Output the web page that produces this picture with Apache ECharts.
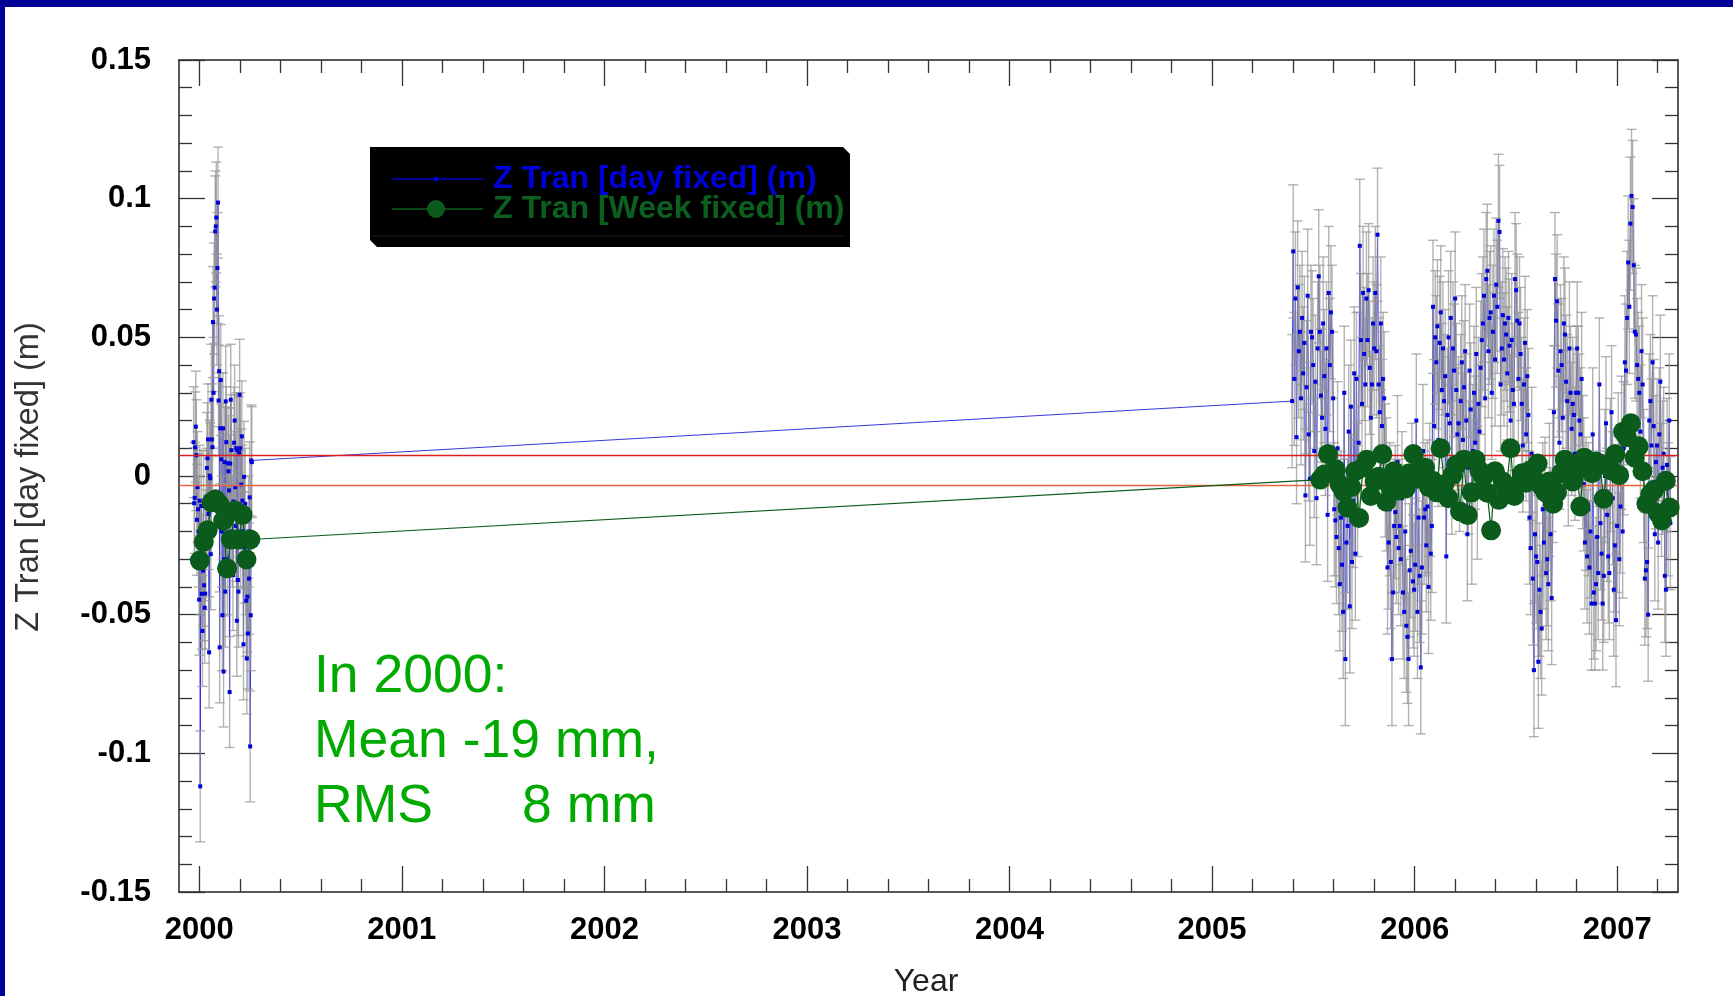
<!DOCTYPE html>
<html><head><meta charset="utf-8">
<script src="https://cdn.jsdelivr.net/npm/echarts@6/dist/echarts.min.js"></script>
<style>html,body{margin:0;padding:0;background:#fff;}#c{width:1733px;height:996px;}</style>
</head><body><div id="c"></div>
<script>
// ---------------- DATA ----------------
const seriesNames = ['Z Tran [day fixed] (m)', 'Z Tran [Week fixed] (m)'];
const yearTicks = [2000, 2001, 2002, 2003, 2004, 2005, 2006, 2007];
const axisTitleX = 'Year';
const axisTitleY = 'Z Tran [day fixed] (m)';
const annotationLines = ['In 2000:', 'Mean -19 mm,', 'RMS      8 mm'];

// daily solution, early 2000 (one value per day)
const dayLeftStart = 1999.972;
const dayLeftStepDays = 1;
const dayLeftValues = [
  0.0122, -0.0098, -0.0079, 0.0103, 0.0178, 0.0075, -0.0158, -0.004, -0.012, -0.02,
  -0.0446, -0.0089, -0.1119, -0.03, -0.0108, -0.0425, -0.0559, -0.0341, -0.0108, -0.0394,
  -0.0475, -0.0424, -0.025, -0.01, 0.0029, 0.0064, 0.0132, -0.0137, -0.0636, 0.0001,
  -0.0008, -0.0282, 0.0275, 0.0132, 0.0104, 0.0555, 0.03, 0.064, 0.0679, 0.0882,
  0.09, 0.0932, 0.06, 0.075, 0.0986, 0.0272, 0.0378, -0.0618, 0.0172, 0.0346,
  0.006, -0.02, -0.0502, 0.0172, -0.0705, -0.03, 0.005, -0.0417, 0.0269, 0.0122,
  -0.015, -0.03, 0.0046, 0.0017, -0.0052, -0.0779, 0.0045, 0.0275, 0.0093, -0.012,
  -0.02, -0.0357, -0.0092, 0.012, 0.02, -0.004, -0.018, 0.01, -0.0522, 0.0093,
  -0.0375, -0.0417, 0.0085, 0.0293, 0.01, -0.02, -0.0031, 0.0143, -0.0089, -0.02,
  -0.0607, -0.0003, -0.0258, -0.01, -0.03, -0.045, -0.0658, -0.0435, -0.0568, -0.02,
  -0.037, -0.0077, -0.0975, -0.0502, 0.0056, 0.005
];

// daily solution, mid 2005 - 2007 (read every second day)
const dayRightStart = 2005.395;
const dayRightStepDays = 2;
const dayRightValues = [
  0.027, 0.081, 0.035, 0.064, 0.014, 0.068, 0.045, 0.052, 0.028, 0.057, 0.037, 0.048, -0.007, 0.032, 0.065, 0.015, -0.001, 0.052, 0.05, 0.04,
  0.009, 0.034, -0.008, 0.046, 0.072, 0.052, 0.029, 0.021, 0.055, 0.036, 0.017, 0.046, -0.014, 0.066, 0.04, 0.059, 0.052, 0.028,
  -0.012, -0.016, -0.022, 0.01, -0.026, -0.039, -0.015, -0.032, -0.049, 0.03, -0.066, -0.024, -0.018, 0.016, -0.047, 0.025, -0.031, -0.009, 0.037, -0.028,
  0.035, -0.005, 0.012,
  0.083, 0.049, 0.026, 0.066, 0.044, 0.033, 0.064, 0.049, 0.067, 0.039, 0.021, 0.033, 0.055, 0.046, 0.066, 0.045, 0.087, 0.033, 0.023, 0.055,
  0.018, 0.035,
  0.028, 0.002, -0.003, -0.033, -0.024, -0.012, -0.031, -0.066, -0.042, -0.018, -0.013, -0.022, 0.005, -0.026, -0.018, -0.03, -0.008, -0.042, -0.049, -0.02,
  -0.054, -0.058, -0.066, -0.034, -0.027, -0.005, -0.038, -0.041, -0.032, 0.02, -0.049, -0.015, -0.036, -0.069, -0.033, 0.009, -0.015, -0.012, -0.025, -0.011,
  -0.04, -0.005, -0.028, -0.018,
  0.061, 0.018, 0.05, 0.041, 0.054, 0.013, 0.048, 0.059, 0.031, 0.046, 0.027, 0.036, -0.029, 0.022, 0.05, 0.019, 0.057, 0.003, 0.046, 0.038,
  0.064, 0.031, 0.015, 0.019, 0.004, 0.027, 0.041, 0.013, 0.032, 0.045, 0.02, -0.021, 0.003, 0.038, 0.024, -0.015, 0.009, 0.03, 0.012, 0.044,
  -0.006, 0.026, 0.016,
  0.039, 0.049, 0.055, 0.065, 0.028, 0.071, 0.074, 0.045, 0.057, 0.059, 0.03, 0.052, 0.065, 0.042, 0.069, 0.061, 0.092, 0.088, 0.033, 0.046,
  0.058, 0.042, 0.055, 0.051, 0.037, 0.057, 0.047, 0.02, 0.049, 0.031, 0.026, 0.071, 0.067, 0.056, 0.035, 0.055, 0.044, 0.026, 0.011, 0.033,
  0.048, 0.015, 0.036, 0.022,
  -0.015, -0.026, 0.008, -0.037, -0.07, -0.021, -0.029, -0.031, -0.067, -0.041, -0.049, -0.055, -0.012, -0.024, -0.01, -0.035, -0.03, -0.039, -0.005, -0.021,
  -0.044, 0.0,
  0.023, 0.071, 0.056, 0.063, 0.038, 0.012, 0.045, 0.04, 0.021, 0.055, 0.051, 0.034, 0.027, 0.006, 0.046, 0.03, 0.017, 0.026, 0.022, 0.008,
  0.03, 0.046, 0.03, 0.02, 0.015, 0.035, 0.005,
  -0.003, -0.024, -0.01, -0.029, -0.012, -0.033, -0.02, -0.046, 0.015, -0.042, -0.046, -0.039, -0.022, -0.035, 0.033, -0.017, -0.028, -0.046, -0.036, 0.0,
  0.019, -0.014, -0.029, -0.035, 0.004, 0.023, -0.008, -0.041, -0.025, -0.052, -0.018, 0.006, -0.03, -0.011, 0.012, -0.02, 0.01,
  0.041, 0.038, 0.057, 0.077, 0.061, 0.091, 0.101, 0.097, 0.076, 0.052, 0.051, 0.04, 0.035, 0.03, 0.016, 0.045,
  0.033, 0.0, -0.037, -0.034, -0.031, -0.05, 0.02, 0.027, 0.011, 0.041, 0.018, -0.021, 0.005, 0.011, -0.024, 0.015, 0.034, -0.005, 0.003, 0.008,
  -0.036, -0.041, 0.004, -0.012, 0.02, -0.017
];

// half-length of the daily error bars (m)
const dayErrLeft = 0.02;
const dayErrRight = 0.024;

// weekly solution
const weekStepDays = 7;
const weekLeftStart = 2000.003;
const weekLeftValues = [-0.0305, -0.0237, -0.0196, -0.0095, -0.0084, -0.01, -0.0161, -0.0333, -0.0229, -0.0124, -0.0229, -0.014, -0.0301, -0.0229];
const weekRightStart = 2005.534;
const weekRightValues = [
  -0.0013, 0.0005, 0.0079, 0.001, 0.0024, -0.003, -0.0056, -0.0114, -0.004, 0.0017,
  -0.0151, 0.003, 0.0059, -0.0072, -0.002, -0.0003, 0.0079, -0.0093, -0.004, 0.0017,
  -0.0052, -0.003, -0.0045, 0.001, 0.0079, -0.001, 0.0024, 0.003, -0.004, -0.0017,
  -0.0059, 0.01, -0.003, -0.008, 0.0003, 0.004, -0.0128, 0.0059, -0.0141, -0.0059,
  0.0059, 0.002, -0.0003, -0.006, -0.0196, 0.0017, -0.0086, -0.002, -0.0038, 0.01,
  -0.0072, -0.003, 0.001, -0.0024, 0.002, -0.001, 0.0045, -0.0038, -0.0059, -0.002,
  -0.01, -0.0059, 0.001, 0.0059, 0.0038, -0.002, 0.0024, -0.011, 0.0066, 0.003,
  0.001, 0.0052, 0.0045, -0.0082, 0.0038, 0.002, 0.0079, 0.0003, 0.016, 0.014,
  0.019, 0.0066, 0.0107, 0.0017, -0.01, -0.0065, -0.005, -0.0134, -0.016, -0.0017,
  -0.0114
];

// horizontal reference levels (m)
const refLines = [0.0076, -0.0032];

// ---------------- CHART ----------------
const YEAR_DAYS = 365.25;
const FONT = '"Liberation Sans", Arial, Helvetica, sans-serif';
const X_MIN = 1999.9, X_MAX = 2007.3;

function toPairs(start, stepDays, vals) {
  return vals.map((v, i) => [start + i * stepDays / YEAR_DAYS, v]);
}
const dayLeft = toPairs(dayLeftStart, dayLeftStepDays, dayLeftValues);
const dayRight = toPairs(dayRightStart, dayRightStepDays, dayRightValues);
const dayData = dayLeft.concat(dayRight);
const errData = dayLeft.map(([x, v]) => [x, v - dayErrLeft, v + dayErrLeft])
  .concat(dayRight.map(([x, v]) => [x, v - dayErrRight, v + dayErrRight]));
const weekData = toPairs(weekLeftStart, weekStepDays, weekLeftValues)
  .concat(toPairs(weekRightStart, weekStepDays, weekRightValues));

const minorYears = [];
yearTicks.forEach(y => {
  for (let k = 1; k < 5; k++) {
    const t = Math.round((y + k * 0.2) * 10) / 10;
    if (t < X_MAX) minorYears.push(t);
  }
});

const axisLineStyle = { color: '#222', width: 1.5 };
const tickStyle = { color: '#333', width: 1.3 };

const xBase = {
  type: 'value', min: X_MIN, max: X_MAX,
  splitLine: { show: false },
  axisLine: { show: true, onZero: false, lineStyle: axisLineStyle }
};
const xAxes = [
  Object.assign({}, xBase, {
    position: 'bottom',
    axisTick: { show: true, inside: true, length: 26, customValues: yearTicks, lineStyle: tickStyle },
    axisLabel: { show: true, customValues: yearTicks, formatter: v => String(Math.round(v)), margin: 23,
      fontFamily: FONT, fontWeight: 'bold', fontSize: 31, color: '#000' }
  }),
  Object.assign({}, xBase, {
    position: 'bottom', axisLine: { show: false, onZero: false },
    axisTick: { show: true, inside: true, length: 13, customValues: minorYears, lineStyle: tickStyle },
    axisLabel: { show: false }
  }),
  Object.assign({}, xBase, {
    position: 'top',
    axisTick: { show: true, inside: true, length: 26, customValues: yearTicks, lineStyle: tickStyle },
    axisLabel: { show: false }
  }),
  Object.assign({}, xBase, {
    position: 'top', axisLine: { show: false, onZero: false },
    axisTick: { show: true, inside: true, length: 13, customValues: minorYears, lineStyle: tickStyle },
    axisLabel: { show: false }
  })
];

const yBase = {
  type: 'value', min: -0.15, max: 0.15, interval: 0.05,
  splitLine: { show: false },
  axisLine: { show: true, onZero: false, lineStyle: axisLineStyle },
  axisTick: { show: true, inside: true, length: 26, lineStyle: tickStyle },
  minorTick: { show: true, splitNumber: 5, length: 13, lineStyle: tickStyle }
};
const yAxes = [
  Object.assign({}, yBase, {
    position: 'left',
    axisLabel: { show: true, margin: 28, fontFamily: FONT, fontWeight: 'bold', fontSize: 31, color: '#000',
      formatter: v => String(parseFloat(Number(v).toFixed(2))) }
  }),
  Object.assign({}, yBase, { position: 'right', axisLabel: { show: false } })
];

const BLUE = '#0000dd', GREEN = '#0b5c1c', ANNOT = '#00aa00';

const option = {
  animation: false,
  backgroundColor: '#ffffff',
  grid: { left: 179, right: 55, top: 60, bottom: 104, containLabel: false, outerBoundsMode: 'none' },
  xAxis: xAxes,
  yAxis: yAxes,
  series: [
    {
      type: 'line', name: seriesNames[0], z: 1,
      xAxisIndex: 0, yAxisIndex: 0,
      data: dayData,
      showSymbol: false, symbol: 'none',
      lineStyle: { color: '#2020dd', width: 1, opacity: 0.9 },
      emphasis: { disabled: true }, silent: true
    },
    {
      type: 'custom', name: 'errorbars', silent: true, z: 2,
      xAxisIndex: 0, yAxisIndex: 0,
      encode: { x: 0, y: [1, 2] },
      data: errData,
      renderItem: function (params, api) {
        const x = api.value(0);
        const lo = api.coord([x, api.value(1)]);
        const hi = api.coord([x, api.value(2)]);
        const w = 5;
        const st = { stroke: 'rgba(150,150,150,0.72)', lineWidth: 1.4 };
        return { type: 'group', children: [
          { type: 'line', shape: { x1: lo[0], y1: lo[1], x2: hi[0], y2: hi[1] }, style: st },
          { type: 'line', shape: { x1: lo[0] - w, y1: lo[1], x2: lo[0] + w, y2: lo[1] }, style: st },
          { type: 'line', shape: { x1: hi[0] - w, y1: hi[1], x2: hi[0] + w, y2: hi[1] }, style: st }
        ] };
      }
    },
    {
      type: 'scatter', name: seriesNames[0] + ' points', z: 3,
      xAxisIndex: 0, yAxisIndex: 0,
      data: dayData,
      symbol: 'rect', symbolSize: 4,
      itemStyle: { color: BLUE, opacity: 1 },
      emphasis: { disabled: true }, silent: true,
      markLine: {
        silent: true, symbol: ['none', 'none'], precision: 5, label: { show: false }, animation: false,
        data: refLines.map((v, i) => ({ yAxis: v, lineStyle: { color: i === 0 ? '#dd1f1f' : '#e8643c', width: 1.4, type: 'solid' } }))
      }
    },
    {
      type: 'line', name: seriesNames[1], z: 5,
      xAxisIndex: 0, yAxisIndex: 0,
      data: weekData,
      symbol: 'circle', symbolSize: 20, showSymbol: true, showAllSymbol: true,
      itemStyle: { color: GREEN },
      lineStyle: { color: GREEN, width: 1.2 },
      emphasis: { disabled: true }
    }
  ],
  graphic: [
    // frame bands
    { type: 'rect', z: 100, shape: { x: 0, y: 0, width: 1733, height: 7 }, style: { fill: '#000099' } },
    { type: 'rect', z: 100, shape: { x: 0, y: 0, width: 5, height: 996 }, style: { fill: '#000099' } },
    // legend box
    { type: 'polygon', z: 50, shape: { points: [[370, 147], [843, 147], [850, 154], [850, 247], [377, 247], [370, 240]] }, style: { fill: '#000' } },
    { type: 'line', z: 51, shape: { x1: 372, y1: 236, x2: 845, y2: 236 }, style: { stroke: '#1e1e1e', lineWidth: 1 } },
    { type: 'line', z: 51, shape: { x1: 392, y1: 179, x2: 483, y2: 179 }, style: { stroke: '#0000cc', lineWidth: 1.3 } },
    { type: 'rect', z: 52, shape: { x: 434, y: 177, width: 4, height: 4 }, style: { fill: BLUE } },
    { type: 'line', z: 51, shape: { x1: 392, y1: 209, x2: 483, y2: 209 }, style: { stroke: GREEN, lineWidth: 1.3 } },
    { type: 'circle', z: 52, shape: { cx: 436, cy: 209, r: 9 }, style: { fill: GREEN } },
    { type: 'text', z: 52, x: 493, y: 179, style: { text: seriesNames[0], font: 'bold 32px ' + FONT, fill: BLUE, align: 'left', verticalAlign: 'middle' } },
    { type: 'text', z: 52, x: 493, y: 209, style: { text: seriesNames[1], font: 'bold 32px ' + FONT, fill: '#0b6020', align: 'left', verticalAlign: 'middle' } },
    // annotation
    { type: 'text', z: 40, x: 314, y: 677, style: { text: annotationLines[0], font: '53.5px ' + FONT, fill: ANNOT, align: 'left', verticalAlign: 'middle' } },
    { type: 'text', z: 40, x: 314, y: 742, style: { text: annotationLines[1], font: '53.5px ' + FONT, fill: ANNOT, align: 'left', verticalAlign: 'middle' } },
    { type: 'text', z: 40, x: 314, y: 807, style: { text: annotationLines[2], font: '53.5px ' + FONT, fill: ANNOT, align: 'left', verticalAlign: 'middle' } },
    // axis titles
    { type: 'text', z: 40, x: 926, y: 982, style: { text: axisTitleX, font: '32px ' + FONT, fill: '#222', align: 'center', verticalAlign: 'middle' } },
    { type: 'text', z: 40, x: 29, y: 477, rotation: Math.PI / 2, style: { text: axisTitleY, font: '32.5px ' + FONT, fill: '#333', align: 'center', verticalAlign: 'middle' } }
  ]
};

const chart = echarts.init(document.getElementById('c'), null, { renderer: 'canvas', width: 1733, height: 996 });
chart.setOption(option);
</script>
</body></html>
